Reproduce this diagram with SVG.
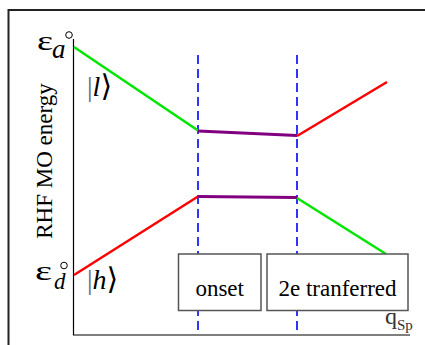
<svg xmlns="http://www.w3.org/2000/svg" width="425" height="345" viewBox="0 0 425 345">
<style>
.serif{font-family:"Liberation Serif","DejaVu Serif",serif;fill:#000}
.box{fill:#fff;stroke:#555;stroke-width:1.5}
.dash{stroke:#0000ff;stroke-width:1.6;stroke-dasharray:9,5;fill:none}
.g{stroke:#00e600;stroke-width:2.5;fill:none}
.r{stroke:#ff0000;stroke-width:2.5;fill:none}
.p{stroke:#800080;stroke-width:3;fill:none}
.axis{stroke:#000;stroke-width:1.2;fill:none}
.deg{fill:none;stroke:#000;stroke-width:1}
.brk{font-family:"DejaVu Serif","DejaVu Sans",serif}
</style>
<rect width="425" height="345" fill="#fff"/>
<path d="M8.5,345 V10 H425" fill="none" stroke="#222" stroke-width="2"/>
<g id="axes">
<path class="axis" d="M73.5,39 V335 H410"/>
</g>
<g id="connectors">
<path class="dash" d="M198,55 V335"/>
<path class="dash" d="M297,55 V335"/>
<path class="g" d="M74,47 L198,130.5"/>
<path class="p" d="M198,131 L297,135.5"/>
<path class="r" d="M297,136 L387,82"/>
<path class="r" d="M74,275 L198,196.5"/>
<path class="p" d="M198,196.5 L297,197.5"/>
<path class="g" d="M297,198 L386,254"/>
</g>
<g id="ylabel">
<text class="serif" font-size="23" transform="translate(52,161) rotate(-90)" text-anchor="middle">RHF MO energy</text>
</g>
<g id="eps-a">
<text class="serif" font-size="27" x="37" y="50" textLength="16" lengthAdjust="spacingAndGlyphs">ε</text>
<text class="serif" font-size="27" font-style="italic" x="52" y="58">a</text>
<circle class="deg" cx="69" cy="35" r="3.3"/>
</g>
<g id="ket-l">
<text class="serif" font-size="28" x="87" y="96"><tspan fill="#666">|</tspan><tspan font-style="italic">l</tspan><tspan class="brk" font-size="30">⟩</tspan></text>
</g>
<g id="eps-d">
<text class="serif" font-size="27" x="35" y="280" textLength="17" lengthAdjust="spacingAndGlyphs">ε</text>
<text class="serif" font-size="23" font-style="italic" x="54" y="289">d</text>
<circle class="deg" cx="64" cy="265.5" r="3.3"/>
</g>
<g id="ket-h">
<text class="serif" font-size="28" x="87" y="289"><tspan fill="#666">|</tspan><tspan font-style="italic">h</tspan><tspan class="brk" font-size="30">⟩</tspan></text>
</g>
<g id="onset">
<rect class="box" x="178.5" y="254" width="82.5" height="56.5"/>
<text class="serif" font-size="23" x="219.7" y="296" text-anchor="middle">onset</text>
</g>
<g id="transferred">
<rect class="box" x="267" y="254" width="141" height="56.5"/>
<text class="serif" font-size="23" x="337.5" y="296" text-anchor="middle">2e tranferred</text>
</g>
<g id="xlabel">
<text font-family="'Liberation Serif',serif" font-size="24" fill="#333" x="385" y="324">q<tspan font-size="15" dy="6">Sp</tspan></text>
</g>
</svg>
